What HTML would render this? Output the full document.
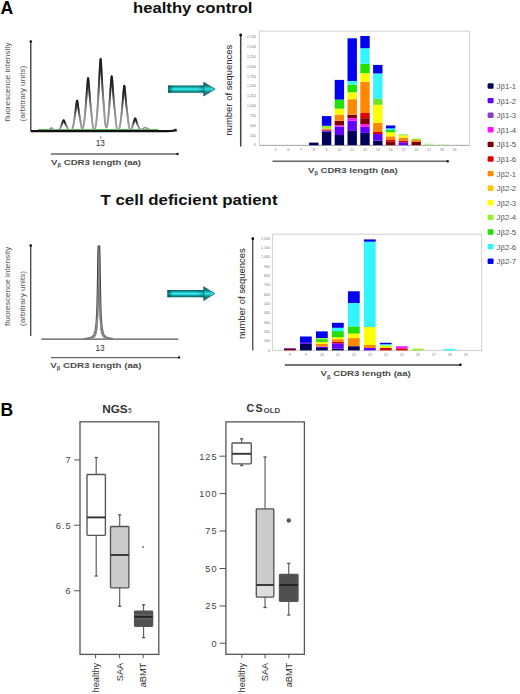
<!DOCTYPE html><html><head><meta charset="utf-8"><style>html,body{margin:0;padding:0;background:#fff;width:520px;height:694px;overflow:hidden}svg{display:block}text{font-family:"Liberation Sans",sans-serif}</style></head><body>
<svg width="520" height="694" viewBox="0 0 520 694">
<defs>
<linearGradient id="arrg" x1="0" y1="0" x2="0" y2="1">
<stop offset="0" stop-color="#0a5a5c"/><stop offset="0.3" stop-color="#18b4b6"/><stop offset="0.5" stop-color="#3af4f4"/><stop offset="0.7" stop-color="#18b4b6"/><stop offset="1" stop-color="#0a5a5c"/></linearGradient>
<linearGradient id="arrh" x1="0" y1="0" x2="1" y2="0">
<stop offset="0" stop-color="#084c4e" stop-opacity="0.85"/><stop offset="0.15" stop-color="#084c4e" stop-opacity="0"/><stop offset="0.8" stop-color="#084c4e" stop-opacity="0"/><stop offset="1" stop-color="#084c4e" stop-opacity="0.35"/></linearGradient>
<linearGradient id="arrhd" x1="0" y1="0" x2="0" y2="1">
<stop offset="0" stop-color="#0a4e50"/><stop offset="0.3" stop-color="#128f92"/><stop offset="0.5" stop-color="#2fe0e2"/><stop offset="0.7" stop-color="#128f92"/><stop offset="1" stop-color="#0a4e50"/></linearGradient>
<linearGradient id="pk1" gradientUnits="userSpaceOnUse" x1="0" y1="56" x2="0" y2="131">
<stop offset="0" stop-color="#1a1a1a"/><stop offset="0.25" stop-color="#444"/><stop offset="0.55" stop-color="#8a8a8a"/><stop offset="0.85" stop-color="#999"/><stop offset="1" stop-color="#444"/></linearGradient>
<linearGradient id="pkb" x1="0" y1="0" x2="0" y2="1">
<stop offset="0" stop-color="#151515"/><stop offset="0.3" stop-color="#333"/><stop offset="0.6" stop-color="#888"/><stop offset="1" stop-color="#a0a0a0" stop-opacity="0.6"/></linearGradient>
<linearGradient id="pk2" gradientUnits="userSpaceOnUse" x1="0" y1="244" x2="0" y2="340">
<stop offset="0" stop-color="#1a1a1a"/><stop offset="0.5" stop-color="#444"/><stop offset="0.85" stop-color="#666"/><stop offset="1" stop-color="#777"/></linearGradient>
</defs>
<text x="0.6" y="14.3" font-size="17.6" font-weight="bold" fill="#000">A</text>
<text x="0.5" y="415.6" font-size="17.5" font-weight="bold" fill="#000">B</text>
<text x="133" y="12.6" font-size="14.4" font-weight="bold" fill="#111" textLength="119.5" lengthAdjust="spacingAndGlyphs">healthy control</text>
<text x="100.5" y="204.7" font-size="15.4" font-weight="bold" fill="#111" textLength="177" lengthAdjust="spacingAndGlyphs">T cell deficient patient</text>
<line x1="30.8" y1="41.5" x2="30.8" y2="131.5" stroke="#333" stroke-width="1.3"/>
<circle cx="30.8" cy="41.5" r="1.3" fill="#111"/>
<text transform="translate(9.6,121.4) rotate(-90)" font-size="7.4" fill="#555" textLength="79" lengthAdjust="spacingAndGlyphs">fluorescence intensity</text>
<text transform="translate(24.7,121.4) rotate(-90)" font-size="7.4" fill="#555" textLength="55.8" lengthAdjust="spacingAndGlyphs">(arbitrary units)</text>
<line x1="38" y1="129.6" x2="158" y2="129.6" stroke="#4cc24c" stroke-width="1.4"/>
<path d="M32.00,131.20 L32.20,131.20 L32.40,131.20 L32.60,131.20 L32.80,131.20 L33.00,131.20 L33.20,131.20 L33.40,131.20 L33.60,131.20 L33.80,131.20 L34.00,131.20 L34.20,131.20 L34.40,131.20 L34.60,131.20 L34.80,131.20 L35.00,131.20 L35.20,131.20 L35.40,131.20 L35.60,131.20 L35.80,131.20 L36.00,131.20 L36.20,131.20 L36.40,131.20 L36.60,131.20 L36.80,131.20 L37.00,131.20 L37.20,131.20 L37.40,131.20 L37.60,131.20 L37.80,131.20 L38.00,131.20 L38.20,131.20 L38.40,131.20 L38.60,131.20 L38.80,131.20 L39.00,131.20 L39.20,131.20 L39.40,131.20 L39.60,131.20 L39.80,131.20 L40.00,131.20 L40.20,131.20 L40.40,131.20 L40.60,131.20 L40.80,131.20 L41.00,131.20 L41.20,131.20 L41.40,131.20 L41.60,131.20 L41.80,131.20 L42.00,131.20 L42.20,131.20 L42.40,131.20 L42.60,131.20 L42.80,131.20 L43.00,131.20 L43.20,131.20 L43.40,131.20 L43.60,131.20 L43.80,131.20 L44.00,131.20 L44.20,131.20 L44.40,131.20 L44.60,131.20 L44.80,131.20 L45.00,131.20 L45.20,131.20 L45.40,131.18 L45.60,131.16 L45.80,131.13 L46.00,131.10 L46.20,131.06 L46.40,131.02 L46.60,130.97 L46.80,130.91 L47.00,130.85 L47.20,130.78 L47.40,130.70 L47.60,130.61 L47.80,130.51 L48.00,130.41 L48.20,130.29 L48.40,130.17 L48.60,130.04 L48.80,129.90 L49.00,129.75 L49.20,129.60 L49.40,129.44 L49.60,129.27 L49.80,129.10 L50.00,128.93 L50.20,128.76 L50.40,128.59 L50.60,128.43 L50.80,128.27 L51.00,128.13 L51.20,128.01 L51.40,127.92 L51.60,127.92 L51.80,128.01 L52.00,128.13 L52.20,128.27 L52.40,128.42 L52.60,128.59 L52.80,128.75 L53.00,128.92 L53.20,129.08 L53.40,129.23 L53.60,129.37 L53.80,129.50 L54.00,129.62 L54.20,129.74 L54.40,129.85 L54.60,129.96 L54.80,130.08 L55.00,130.20 L55.20,130.33 L55.40,130.46 L55.60,130.58 L55.80,130.70 L56.00,130.80 L56.20,130.88 L56.40,130.95 L56.60,131.01 L56.80,131.06 L57.00,131.10 L57.20,131.07 L57.40,131.03 L57.60,130.97 L57.80,130.89 L58.00,130.78 L58.20,130.65 L58.40,130.50 L58.60,130.33 L58.80,130.14 L59.00,129.93 L59.20,129.70 L59.40,129.44 L59.60,129.16 L59.80,128.86 L60.00,128.52 L60.20,128.17 L60.40,127.78 L60.60,127.37 L60.80,126.94 L61.00,126.48 L61.20,126.01 L61.40,125.51 L61.60,124.99 L61.80,124.47 L62.00,123.93 L62.20,123.39 L62.40,122.85 L62.60,122.32 L62.80,121.81 L63.00,121.33 L63.20,120.90 L63.40,120.53 L63.60,120.26 L63.80,120.26 L64.00,120.53 L64.20,120.90 L64.40,121.33 L64.60,121.80 L64.80,122.31 L65.00,122.82 L65.20,123.34 L65.40,123.84 L65.60,124.32 L65.80,124.76 L66.00,125.18 L66.20,125.56 L66.40,125.93 L66.60,126.29 L66.80,126.66 L67.00,127.06 L67.20,127.48 L67.40,127.91 L67.60,128.35 L67.80,128.78 L68.00,129.17 L68.20,129.52 L68.40,129.82 L68.60,130.08 L68.80,130.30 L69.00,130.48 L69.20,130.64 L69.40,130.78 L69.60,130.89 L69.80,130.99 L70.00,131.07 L70.20,131.14 L70.40,131.20 L70.60,131.20 L70.80,131.20 L71.00,131.02 L71.20,130.81 L71.40,130.55 L71.60,130.25 L71.80,129.90 L72.00,129.49 L72.20,129.03 L72.40,128.50 L72.60,127.90 L72.80,127.24 L73.00,126.49 L73.20,125.68 L73.40,124.78 L73.60,123.80 L73.80,122.74 L74.00,121.60 L74.20,120.38 L74.40,119.08 L74.60,117.71 L74.80,116.27 L75.00,114.77 L75.20,113.23 L75.40,111.64 L75.60,110.04 L75.80,108.43 L76.00,106.84 L76.20,105.30 L76.40,103.85 L76.60,102.53 L76.80,101.41 L77.00,100.60 L77.20,100.60 L77.40,101.41 L77.60,102.53 L77.80,103.84 L78.00,105.28 L78.20,106.80 L78.40,108.35 L78.60,109.89 L78.80,111.39 L79.00,112.81 L79.20,114.13 L79.40,115.35 L79.60,116.48 L79.80,117.54 L80.00,118.58 L80.20,119.64 L80.40,120.75 L80.60,121.91 L80.80,123.12 L81.00,124.31 L81.20,125.46 L81.40,126.50 L81.60,127.42 L81.80,128.21 L82.00,128.56 L82.20,128.74 L82.40,128.74 L82.60,128.60 L82.80,128.30 L83.00,127.86 L83.20,127.26 L83.40,126.53 L83.60,125.49 L83.80,124.34 L84.00,123.06 L84.20,121.64 L84.40,120.09 L84.60,118.39 L84.80,116.56 L85.00,114.58 L85.20,112.47 L85.40,110.23 L85.60,107.85 L85.80,105.37 L86.00,102.77 L86.20,100.10 L86.40,97.35 L86.60,94.58 L86.80,91.79 L87.00,89.04 L87.20,86.38 L87.40,83.87 L87.60,81.58 L87.80,79.64 L88.00,78.24 L88.20,78.24 L88.40,79.64 L88.60,81.58 L88.80,83.85 L89.00,86.35 L89.20,88.98 L89.40,91.66 L89.60,94.33 L89.80,96.92 L90.00,99.37 L90.20,101.66 L90.40,103.77 L90.60,105.72 L90.80,107.56 L91.00,109.35 L91.20,111.19 L91.40,113.11 L91.60,115.13 L91.80,117.21 L92.00,119.28 L92.20,121.26 L92.40,123.07 L92.60,124.66 L92.80,126.02 L93.00,127.16 L93.20,128.10 L93.40,128.88 L93.60,129.53 L93.80,130.07 L94.00,130.52 L94.20,130.89 L94.40,131.00 L94.60,130.54 L94.80,129.99 L95.00,129.34 L95.20,128.57 L95.40,127.68 L95.60,126.65 L95.80,125.48 L96.00,124.16 L96.20,122.68 L96.40,121.02 L96.60,119.18 L96.80,117.16 L97.00,114.96 L97.20,112.56 L97.40,109.97 L97.60,107.19 L97.80,104.22 L98.00,101.08 L98.20,97.77 L98.40,94.31 L98.60,90.73 L98.80,87.04 L99.00,83.28 L99.20,79.49 L99.40,75.72 L99.60,72.03 L99.80,68.50 L100.00,65.22 L100.20,62.32 L100.40,60.00 L100.60,58.70 L100.80,60.00 L101.00,62.32 L101.20,65.21 L101.40,68.47 L101.60,71.97 L101.80,75.59 L102.00,79.24 L102.20,82.82 L102.40,86.26 L102.60,89.50 L102.80,92.49 L103.00,95.24 L103.20,97.80 L103.40,100.26 L103.60,102.72 L103.80,105.27 L104.00,107.95 L104.20,110.75 L104.40,113.59 L104.60,116.36 L104.80,118.94 L105.00,121.26 L105.20,123.27 L105.40,124.97 L105.60,126.06 L105.80,126.85 L106.00,127.35 L106.20,127.62 L106.40,127.66 L106.60,127.48 L106.80,127.11 L107.00,126.36 L107.20,125.29 L107.40,124.10 L107.60,122.77 L107.80,121.30 L108.00,119.69 L108.20,117.94 L108.40,116.04 L108.60,113.99 L108.80,111.80 L109.00,109.48 L109.20,107.02 L109.40,104.44 L109.60,101.76 L109.80,98.99 L110.00,96.15 L110.20,93.27 L110.40,90.39 L110.60,87.54 L110.80,84.78 L111.00,82.18 L111.20,79.82 L111.40,77.81 L111.60,76.35 L111.80,76.35 L112.00,77.80 L112.20,79.81 L112.40,82.17 L112.60,84.75 L112.80,87.47 L113.00,90.25 L113.20,93.01 L113.40,95.69 L113.60,98.24 L113.80,100.61 L114.00,102.80 L114.20,104.81 L114.40,106.71 L114.60,108.57 L114.80,110.47 L115.00,112.46 L115.20,114.56 L115.40,116.71 L115.60,118.86 L115.80,120.91 L116.00,122.78 L116.20,124.43 L116.40,125.84 L116.60,127.02 L116.80,127.99 L117.00,128.80 L117.20,129.47 L117.40,130.03 L117.60,130.50 L117.80,130.88 L118.00,131.20 L118.20,130.94 L118.40,130.62 L118.60,130.24 L118.80,129.80 L119.00,129.28 L119.20,128.67 L119.40,127.98 L119.60,127.20 L119.80,126.32 L120.00,125.33 L120.20,124.23 L120.40,123.02 L120.60,121.69 L120.80,120.24 L121.00,118.67 L121.20,116.99 L121.40,115.18 L121.60,113.26 L121.80,111.23 L122.00,109.10 L122.20,106.88 L122.40,104.59 L122.60,102.24 L122.80,99.87 L123.00,97.48 L123.20,95.13 L123.40,92.86 L123.60,90.71 L123.80,88.75 L124.00,87.09 L124.20,85.89 L124.40,85.89 L124.60,87.09 L124.80,88.75 L125.00,90.69 L125.20,92.83 L125.40,95.08 L125.60,97.37 L125.80,99.65 L126.00,101.87 L126.20,103.97 L126.40,105.93 L126.60,107.74 L126.80,109.40 L127.00,110.97 L127.20,112.51 L127.40,114.08 L127.60,115.72 L127.80,117.45 L128.00,119.23 L128.20,121.00 L128.40,122.70 L128.60,124.24 L128.80,125.61 L129.00,126.74 L129.20,127.63 L129.40,128.34 L129.60,128.89 L129.80,129.31 L130.00,129.61 L130.20,129.81 L130.40,129.92 L130.60,129.95 L130.80,129.68 L131.00,129.39 L131.20,129.06 L131.40,128.70 L131.60,128.31 L131.80,127.88 L132.00,127.42 L132.20,126.93 L132.40,126.40 L132.60,125.84 L132.80,125.25 L133.00,124.64 L133.20,124.00 L133.40,123.34 L133.60,122.67 L133.80,122.00 L134.00,121.33 L134.20,120.67 L134.40,120.04 L134.60,119.46 L134.80,118.94 L135.00,118.53 L135.20,118.30 L135.40,118.53 L135.60,118.93 L135.80,119.43 L136.00,119.99 L136.20,120.59 L136.40,121.22 L136.60,121.84 L136.80,122.45 L137.00,123.04 L137.20,123.58 L137.40,124.08 L137.60,124.53 L137.80,124.95 L138.00,125.34 L138.20,125.73 L138.40,126.13 L138.60,126.55 L138.80,126.99 L139.00,127.44 L139.20,127.86 L139.40,128.25 L139.60,128.59 L139.80,128.87 L140.00,129.09 L140.20,129.26 L140.40,129.38 L140.60,129.45 L140.80,129.50 L141.00,129.52 L141.20,129.51 L141.40,129.49 L141.60,129.41 L141.80,129.30 L142.00,129.18 L142.20,129.06 L142.40,128.94 L142.60,128.82 L142.80,128.69 L143.00,128.57 L143.20,128.45 L143.40,128.32 L143.60,128.20 L143.80,128.09 L144.00,127.97 L144.20,127.86 L144.40,127.76 L144.60,127.67 L144.80,127.60 L145.00,127.53 L145.20,127.50 L145.40,127.53 L145.60,127.60 L145.80,127.67 L146.00,127.76 L146.20,127.86 L146.40,127.97 L146.60,128.07 L146.80,128.18 L147.00,128.28 L147.20,128.38 L147.40,128.47 L147.60,128.56 L147.80,128.64 L148.00,128.73 L148.20,128.82 L148.40,128.92 L148.60,129.04 L148.80,129.17 L149.00,129.32 L149.20,129.46 L149.40,129.61 L149.60,129.74 L149.80,129.87 L150.00,129.99 L150.20,130.09 L150.40,130.19 L150.60,130.28 L150.80,130.36 L151.00,130.43 L151.20,130.50 L151.40,130.57 L151.60,130.63 L151.80,130.69 L152.00,130.75 L152.20,130.80 L152.40,130.84 L152.60,130.89 L152.80,130.93 L153.00,130.97 L153.20,131.00 L153.40,131.03 L153.60,131.06 L153.80,131.09 L154.00,131.11 L154.20,131.13 L154.40,131.15 L154.60,131.17 L154.80,131.18 L155.00,131.20 L155.20,131.20 L155.40,131.20 L155.60,131.20 L155.80,131.20 L156.00,131.20 L156.20,131.20 L156.40,131.20 L156.60,131.20 L156.80,131.20 L157.00,131.20 L157.20,131.20 L157.40,131.20 L157.60,131.20 L157.80,131.20 L158.00,131.20 L158.20,131.20 L158.40,131.20 L158.60,131.20 L158.80,131.20 L159.00,131.20 L159.20,131.20 L159.40,131.20 L159.60,131.20 L159.80,131.20 L160.00,131.20 L160.20,131.20 L160.40,131.20 L160.60,131.20 L160.80,131.20 L161.00,131.20 L161.20,131.20 L161.40,131.20 L161.60,131.20 L161.80,131.20 L162.00,131.20 L162.20,131.20 L162.40,131.20 L162.60,131.20 L162.80,131.20 L163.00,131.20 L163.20,131.20 L163.40,131.20 L163.60,131.20 L163.80,131.20 L164.00,131.20 L164.20,131.20 L164.40,131.20 L164.60,131.20 L164.80,131.20 L165.00,131.20 L165.20,131.20 L165.40,131.20 L165.60,131.20 L165.80,131.20 L166.00,131.20 L166.20,131.20 L166.40,131.20 L166.60,131.20 L166.80,131.20 L167.00,131.20 L167.20,131.20 L167.40,131.20 L167.60,131.20 L167.80,131.20 L168.00,131.20 L168.20,131.20 L168.40,131.20 L168.60,131.20 L168.80,131.20 L169.00,131.20 L169.20,131.20 L169.40,131.20 L169.60,131.20 L169.80,131.20 L170.00,131.20 L170.20,131.20 L170.40,131.20 L170.60,131.20 L170.80,131.20 L171.00,131.20 L171.20,131.20 L171.40,131.20 L171.60,131.20 L171.80,131.20 L172.00,131.20 L172.20,131.20 L172.40,131.20 L172.60,131.20 L172.80,131.20 L173.00,131.20 L173.20,131.20 L173.40,131.20 L173.60,131.20 L173.80,131.20 L174.00,131.20 L174.20,131.20 L174.40,131.20 L174.60,131.20 L174.80,131.20 L175.00,131.20 L175.20,131.20 L175.40,131.20 L175.60,131.20 L175.80,131.20 L176.00,131.20 L176.20,131.20 L176.40,131.20 L176.60,131.20 L176.80,131.20 L177.00,131.20" fill="none" stroke="#9a9a9a" stroke-width="1.7" stroke-linejoin="round"/>
<path d="M58.35,130.54 L58.50,130.42 L58.65,130.29 L58.80,130.15 L58.95,129.99 L59.09,129.83 L59.24,129.65 L59.39,129.45 L59.54,129.24 L59.69,129.02 L59.84,128.78 L59.99,128.53 L60.14,128.27 L60.29,127.99 L60.44,127.69 L60.59,127.39 L60.74,127.06 L60.89,126.73 L61.04,126.38 L61.19,126.02 L61.34,125.65 L61.49,125.27 L61.64,124.88 L61.79,124.48 L61.94,124.08 L62.09,123.67 L62.24,123.27 L62.39,122.86 L62.54,122.46 L62.69,122.07 L62.84,121.70 L62.99,121.34 L63.14,121.01 L63.29,120.71 L63.44,120.46 L63.59,120.27 L63.74,120.22 L63.89,120.37 L64.04,120.60 L64.19,120.89 L64.34,121.20 L64.49,121.55 L64.64,121.91 L64.79,122.29 L64.94,122.68 L65.09,123.07 L65.25,123.45 L65.40,123.83 L65.55,124.19 L65.70,124.53 L65.85,124.86 L66.00,125.17 L66.15,125.46 L66.30,125.74 L66.45,126.01 L66.60,126.28 L66.75,126.56 L66.90,126.85 L67.05,127.15 L67.20,127.47 L67.35,127.79 L67.50,128.12 L67.65,128.45 L67.80,128.77 L67.95,129.06 L68.10,129.34 L68.25,129.59 L68.40,129.81 L68.55,130.01 L68.70,130.19 L68.85,130.34 L69.00,130.48" fill="none" stroke="url(#pkb)" stroke-width="1.9" stroke-linejoin="round"/>
<path d="M72.06,129.36 L72.21,129.00 L72.36,128.61 L72.51,128.18 L72.66,127.71 L72.81,127.20 L72.96,126.65 L73.11,126.05 L73.26,125.41 L73.41,124.73 L73.56,124.00 L73.71,123.23 L73.86,122.41 L74.01,121.54 L74.16,120.63 L74.31,119.67 L74.46,118.68 L74.61,117.64 L74.76,116.56 L74.91,115.45 L75.06,114.31 L75.21,113.15 L75.36,111.96 L75.51,110.76 L75.66,109.55 L75.81,108.35 L75.96,107.15 L76.11,105.98 L76.26,104.85 L76.41,103.78 L76.56,102.78 L76.71,101.88 L76.86,101.12 L77.01,100.57 L77.16,100.49 L77.31,100.99 L77.46,101.72 L77.61,102.59 L77.76,103.57 L77.91,104.62 L78.06,105.73 L78.21,106.88 L78.36,108.04 L78.51,109.20 L78.66,110.35 L78.81,111.46 L78.96,112.53 L79.11,113.55 L79.26,114.51 L79.41,115.41 L79.56,116.26 L79.71,117.06 L79.86,117.85 L80.01,118.63 L80.16,119.42 L80.31,120.24 L80.46,121.09 L80.61,121.97 L80.76,122.87 L80.91,123.78 L81.06,124.66 L81.21,125.51 L81.36,126.30 L81.51,127.02 L81.66,127.67 L81.81,128.24 L81.96,128.74 L82.11,129.18" fill="none" stroke="url(#pkb)" stroke-width="1.9" stroke-linejoin="round"/>
<path d="M83.06,128.02 L83.21,127.40 L83.36,126.72 L83.51,125.97 L83.66,125.16 L83.81,124.28 L83.96,123.32 L84.11,122.29 L84.26,121.19 L84.41,120.01 L84.56,118.74 L84.71,117.40 L84.86,115.98 L85.01,114.48 L85.16,112.91 L85.31,111.25 L85.46,109.53 L85.61,107.73 L85.76,105.87 L85.91,103.95 L86.06,101.98 L86.21,99.96 L86.36,97.91 L86.51,95.83 L86.66,93.74 L86.81,91.65 L86.96,89.59 L87.11,87.56 L87.26,85.61 L87.41,83.75 L87.56,82.02 L87.71,80.47 L87.86,79.15 L88.01,78.19 L88.16,78.06 L88.31,78.93 L88.46,80.18 L88.61,81.69 L88.76,83.38 L88.91,85.21 L89.06,87.13 L89.21,89.11 L89.36,91.12 L89.51,93.13 L89.66,95.11 L89.81,97.04 L89.96,98.89 L90.11,100.66 L90.26,102.32 L90.41,103.87 L90.56,105.34 L90.71,106.74 L90.86,108.10 L91.01,109.44 L91.16,110.82 L91.31,112.23 L91.46,113.71 L91.61,115.23 L91.76,116.79 L91.91,118.36 L92.06,119.89 L92.21,121.36 L92.36,122.72 L92.51,123.97 L92.66,125.10 L92.81,126.09 L92.96,126.95 L93.11,127.70" fill="none" stroke="url(#pkb)" stroke-width="1.9" stroke-linejoin="round"/>
<path d="M95.56,126.87 L95.71,126.03 L95.86,125.10 L96.01,124.09 L96.16,122.99 L96.31,121.79 L96.46,120.49 L96.61,119.09 L96.76,117.58 L96.91,115.97 L97.06,114.26 L97.21,112.43 L97.36,110.50 L97.51,108.46 L97.66,106.32 L97.81,104.07 L97.96,101.72 L98.11,99.28 L98.26,96.75 L98.41,94.14 L98.56,91.45 L98.71,88.71 L98.86,85.91 L99.01,83.09 L99.16,80.24 L99.31,77.41 L99.46,74.60 L99.61,71.85 L99.76,69.18 L99.91,66.65 L100.06,64.30 L100.21,62.19 L100.36,60.41 L100.51,59.10 L100.66,58.91 L100.81,60.10 L100.96,61.80 L101.11,63.85 L101.26,66.15 L101.41,68.64 L101.56,71.25 L101.71,73.95 L101.86,76.68 L102.01,79.42 L102.16,82.11 L102.31,84.74 L102.46,87.26 L102.61,89.65 L102.76,91.91 L102.91,94.03 L103.06,96.03 L103.21,97.93 L103.36,99.77 L103.51,101.61 L103.66,103.47 L103.81,105.40 L103.96,107.40 L104.11,109.48 L104.26,111.60 L104.41,113.73 L104.56,115.81 L104.71,117.81 L104.86,119.67 L105.01,121.37 L105.16,122.90 L105.31,124.24 L105.46,125.42 L105.61,126.44" fill="none" stroke="url(#pkb)" stroke-width="1.9" stroke-linejoin="round"/>
<path d="M106.66,127.90 L106.81,127.26 L106.96,126.56 L107.11,125.79 L107.26,124.95 L107.41,124.03 L107.56,123.04 L107.71,121.98 L107.86,120.83 L108.01,119.61 L108.16,118.30 L108.31,116.91 L108.46,115.44 L108.61,113.89 L108.76,112.25 L108.91,110.54 L109.06,108.76 L109.21,106.90 L109.36,104.97 L109.51,102.98 L109.66,100.94 L109.81,98.85 L109.96,96.72 L110.11,94.57 L110.26,92.40 L110.41,90.24 L110.56,88.10 L110.71,86.01 L110.86,83.98 L111.01,82.06 L111.16,80.26 L111.31,78.66 L111.46,77.30 L111.61,76.30 L111.76,76.16 L111.91,77.06 L112.06,78.36 L112.21,79.92 L112.36,81.67 L112.51,83.57 L112.66,85.56 L112.81,87.61 L112.96,89.69 L113.11,91.77 L113.26,93.83 L113.41,95.82 L113.56,97.74 L113.71,99.57 L113.86,101.29 L114.01,102.90 L114.16,104.42 L114.31,105.87 L114.46,107.27 L114.61,108.67 L114.76,110.09 L114.91,111.56 L115.06,113.08 L115.21,114.66 L115.36,116.28 L115.51,117.90 L115.66,119.49 L115.81,121.00 L115.96,122.42 L116.11,123.72 L116.26,124.88 L116.41,125.90 L116.56,126.80 L116.71,127.58" fill="none" stroke="url(#pkb)" stroke-width="1.9" stroke-linejoin="round"/>
<path d="M119.26,128.48 L119.41,127.95 L119.56,127.37 L119.71,126.73 L119.86,126.03 L120.01,125.28 L120.16,124.46 L120.31,123.58 L120.46,122.64 L120.61,121.62 L120.76,120.54 L120.91,119.40 L121.06,118.18 L121.21,116.90 L121.36,115.55 L121.51,114.13 L121.66,112.66 L121.81,111.12 L121.96,109.53 L122.11,107.89 L122.26,106.20 L122.41,104.47 L122.56,102.72 L122.71,100.94 L122.86,99.15 L123.01,97.37 L123.16,95.60 L123.31,93.87 L123.46,92.19 L123.61,90.60 L123.76,89.12 L123.91,87.79 L124.06,86.67 L124.21,85.85 L124.36,85.73 L124.51,86.48 L124.66,87.55 L124.81,88.84 L124.96,90.29 L125.11,91.85 L125.26,93.50 L125.41,95.19 L125.56,96.91 L125.71,98.63 L125.86,100.33 L126.01,101.98 L126.16,103.56 L126.31,105.07 L126.46,106.49 L126.61,107.82 L126.76,109.08 L126.91,110.27 L127.06,111.43 L127.21,112.59 L127.36,113.76 L127.51,114.97 L127.66,116.23 L127.81,117.54 L127.96,118.87 L128.11,120.21 L128.26,121.52 L128.41,122.78 L128.56,123.95 L128.71,125.02 L128.86,125.98 L129.01,126.82 L129.16,127.56 L129.31,128.21" fill="none" stroke="url(#pkb)" stroke-width="1.9" stroke-linejoin="round"/>
<path d="M130.16,130.43 L130.31,130.28 L130.46,130.12 L130.61,129.94 L130.76,129.74 L130.91,129.52 L131.06,129.29 L131.21,129.04 L131.36,128.78 L131.51,128.49 L131.66,128.19 L131.81,127.86 L131.96,127.52 L132.11,127.15 L132.26,126.77 L132.41,126.37 L132.56,125.95 L132.71,125.52 L132.86,125.07 L133.01,124.61 L133.16,124.13 L133.31,123.64 L133.46,123.14 L133.61,122.64 L133.76,122.13 L133.91,121.63 L134.06,121.13 L134.21,120.64 L134.36,120.17 L134.51,119.72 L134.66,119.30 L134.81,118.92 L134.96,118.60 L135.11,118.37 L135.26,118.34 L135.41,118.55 L135.56,118.85 L135.71,119.22 L135.86,119.63 L136.01,120.07 L136.16,120.53 L136.31,121.01 L136.46,121.50 L136.61,121.99 L136.76,122.47 L136.91,122.93 L137.06,123.38 L137.21,123.81 L137.36,124.21 L137.51,124.59 L137.66,124.94 L137.81,125.28 L137.96,125.61 L138.11,125.93 L138.26,126.27 L138.41,126.61 L138.56,126.97 L138.71,127.34 L138.86,127.71 L139.01,128.09 L139.16,128.46 L139.31,128.82 L139.46,129.15 L139.61,129.45 L139.76,129.72 L139.91,129.96 L140.06,130.17 L140.21,130.35" fill="none" stroke="url(#pkb)" stroke-width="1.9" stroke-linejoin="round"/>
<path d="M31,131.1 L168,131.1 Q174,131.1 176.6,129.4" fill="none" stroke="#111" stroke-width="2.3"/>
<line x1="100.8" y1="136" x2="100.8" y2="138.5" stroke="#555" stroke-width="0.7"/>
<text x="95.8" y="146.3" font-size="8.2" fill="#333">13</text>
<line x1="50.8" y1="154" x2="177.5" y2="154" stroke="#666" stroke-width="1.3"/>
<circle cx="177.5" cy="154" r="1.2" fill="#111"/>
<text x="51.1" y="165.0" font-size="8.1" font-weight="bold" fill="#4a4a4a" textLength="90" lengthAdjust="spacingAndGlyphs">V<tspan font-size="4.86" dy="2.27">β</tspan><tspan dy="-2.27"> CDR3 length (aa)</tspan></text>
<path d="M168.1,85.5 L204.2,85.5 L204.2,92.69999999999999 L168.1,92.69999999999999 Z" fill="url(#arrg)"/><path d="M168.1,85.5 L204.2,85.5 L204.2,92.69999999999999 L168.1,92.69999999999999 Z" fill="url(#arrh)"/><path d="M203.7,82.19999999999999 L215.2,89.1 L203.7,96.0 Z" fill="url(#arrhd)" stroke="#0b5557" stroke-width="0.6" stroke-linejoin="round"/>
<path d="M167.4,290.0 L204.2,290.0 L204.2,297.20000000000005 L167.4,297.20000000000005 Z" fill="url(#arrg)"/><path d="M167.4,290.0 L204.2,290.0 L204.2,297.20000000000005 L167.4,297.20000000000005 Z" fill="url(#arrh)"/><path d="M203.7,286.70000000000005 L214.9,293.6 L203.7,300.5 Z" fill="url(#arrhd)" stroke="#0b5557" stroke-width="0.6" stroke-linejoin="round"/>
<rect x="259.3" y="31.1" width="210.09999999999997" height="114.1" fill="none" stroke="#d0d0d0" stroke-width="1"/>
<line x1="259.3" y1="145.5" x2="469.4" y2="145.5" stroke="#b0b0b0" stroke-width="1.2"/>
<line x1="240.7" y1="35" x2="240.7" y2="146" stroke="#444" stroke-width="1.5" stroke-linecap="round"/>
<circle cx="240.7" cy="35" r="1.4" fill="#000"/>
<text transform="translate(232.4,135.5) rotate(-90)" font-size="9.0" fill="#222" textLength="90.8" lengthAdjust="spacingAndGlyphs">number of sequences</text>
<text x="256" y="38.2" font-size="3.6" fill="#777" text-anchor="end">2,750</text>
<text x="256" y="48.0" font-size="3.6" fill="#777" text-anchor="end">2,500</text>
<text x="256" y="57.9" font-size="3.6" fill="#777" text-anchor="end">2,250</text>
<text x="256" y="67.7" font-size="3.6" fill="#777" text-anchor="end">2,000</text>
<text x="256" y="77.5" font-size="3.6" fill="#777" text-anchor="end">1,750</text>
<text x="256" y="87.3" font-size="3.6" fill="#777" text-anchor="end">1,500</text>
<text x="256" y="97.2" font-size="3.6" fill="#777" text-anchor="end">1,250</text>
<text x="256" y="107.0" font-size="3.6" fill="#777" text-anchor="end">1,000</text>
<text x="256" y="116.8" font-size="3.6" fill="#777" text-anchor="end">750</text>
<text x="256" y="126.6" font-size="3.6" fill="#777" text-anchor="end">500</text>
<text x="256" y="136.5" font-size="3.6" fill="#777" text-anchor="end">250</text>
<text x="256" y="146.3" font-size="3.6" fill="#777" text-anchor="end">0</text>
<text x="275.4" y="151.2" font-size="3.6" fill="#777" text-anchor="middle">5</text>
<text x="288.2" y="151.2" font-size="3.6" fill="#777" text-anchor="middle">6</text>
<text x="301.0" y="151.2" font-size="3.6" fill="#777" text-anchor="middle">7</text>
<text x="313.8" y="151.2" font-size="3.6" fill="#777" text-anchor="middle">8</text>
<text x="326.6" y="151.2" font-size="3.6" fill="#777" text-anchor="middle">9</text>
<text x="339.4" y="151.2" font-size="3.6" fill="#777" text-anchor="middle">10</text>
<text x="352.2" y="151.2" font-size="3.6" fill="#777" text-anchor="middle">11</text>
<text x="365.0" y="151.2" font-size="3.6" fill="#777" text-anchor="middle">12</text>
<text x="377.8" y="151.2" font-size="3.6" fill="#777" text-anchor="middle">13</text>
<text x="390.6" y="151.2" font-size="3.6" fill="#777" text-anchor="middle">14</text>
<text x="403.4" y="151.2" font-size="3.6" fill="#777" text-anchor="middle">15</text>
<text x="416.2" y="151.2" font-size="3.6" fill="#777" text-anchor="middle">16</text>
<text x="429.0" y="151.2" font-size="3.6" fill="#777" text-anchor="middle">17</text>
<text x="441.8" y="151.2" font-size="3.6" fill="#777" text-anchor="middle">18</text>
<text x="454.6" y="151.2" font-size="3.6" fill="#777" text-anchor="middle">19</text>
<rect x="309.10" y="142.60" width="9.4" height="2.60" fill="#00005a"/>
<rect x="321.90" y="131.70" width="9.4" height="13.50" fill="#00005a"/>
<rect x="321.90" y="130.60" width="9.4" height="1.10" fill="#6200ff"/>
<rect x="321.90" y="129.60" width="9.4" height="1.00" fill="#dd0000"/>
<rect x="321.90" y="128.60" width="9.4" height="1.00" fill="#ff8800"/>
<rect x="321.90" y="125.80" width="9.4" height="2.80" fill="#99ee33"/>
<rect x="321.90" y="116.10" width="9.4" height="9.70" fill="#0000f0"/>
<rect x="334.70" y="135.00" width="9.4" height="10.20" fill="#00005a"/>
<rect x="334.70" y="126.60" width="9.4" height="8.40" fill="#6200ff"/>
<rect x="334.70" y="125.30" width="9.4" height="1.30" fill="#ff10ff"/>
<rect x="334.70" y="120.80" width="9.4" height="4.50" fill="#7a0000"/>
<rect x="334.70" y="114.50" width="9.4" height="6.30" fill="#ff8800"/>
<rect x="334.70" y="108.70" width="9.4" height="5.80" fill="#ffff00"/>
<rect x="334.70" y="99.60" width="9.4" height="9.10" fill="#22e000"/>
<rect x="334.70" y="79.90" width="9.4" height="19.70" fill="#0000f0"/>
<rect x="347.50" y="130.30" width="9.4" height="14.90" fill="#00005a"/>
<rect x="347.50" y="120.80" width="9.4" height="9.50" fill="#6200ff"/>
<rect x="347.50" y="118.20" width="9.4" height="2.60" fill="#ff10ff"/>
<rect x="347.50" y="114.70" width="9.4" height="3.50" fill="#7a0000"/>
<rect x="347.50" y="99.20" width="9.4" height="15.50" fill="#ff8800"/>
<rect x="347.50" y="92.30" width="9.4" height="6.90" fill="#ffff00"/>
<rect x="347.50" y="84.50" width="9.4" height="7.80" fill="#22e000"/>
<rect x="347.50" y="81.00" width="9.4" height="3.50" fill="#33f5ff"/>
<rect x="347.50" y="38.30" width="9.4" height="42.70" fill="#0000f0"/>
<rect x="360.30" y="132.90" width="9.4" height="12.30" fill="#00005a"/>
<rect x="360.30" y="126.80" width="9.4" height="6.10" fill="#6200ff"/>
<rect x="360.30" y="124.20" width="9.4" height="2.60" fill="#ff10ff"/>
<rect x="360.30" y="118.20" width="9.4" height="6.00" fill="#7a0000"/>
<rect x="360.30" y="113.00" width="9.4" height="5.20" fill="#dd0000"/>
<rect x="360.30" y="81.90" width="9.4" height="31.10" fill="#ff8800"/>
<rect x="360.30" y="73.20" width="9.4" height="8.70" fill="#ffff00"/>
<rect x="360.30" y="63.70" width="9.4" height="9.50" fill="#22e000"/>
<rect x="360.30" y="48.20" width="9.4" height="15.50" fill="#33f5ff"/>
<rect x="360.30" y="36.00" width="9.4" height="12.20" fill="#0000f0"/>
<rect x="373.10" y="140.50" width="9.4" height="4.70" fill="#00005a"/>
<rect x="373.10" y="134.00" width="9.4" height="6.50" fill="#6200ff"/>
<rect x="373.10" y="132.00" width="9.4" height="2.00" fill="#dd0000"/>
<rect x="373.10" y="122.70" width="9.4" height="9.30" fill="#ff8800"/>
<rect x="373.10" y="104.80" width="9.4" height="17.90" fill="#ffff00"/>
<rect x="373.10" y="98.90" width="9.4" height="5.90" fill="#6ee030"/>
<rect x="373.10" y="73.40" width="9.4" height="25.50" fill="#33f5ff"/>
<rect x="373.10" y="64.90" width="9.4" height="8.50" fill="#0000f0"/>
<rect x="385.90" y="141.80" width="9.4" height="3.40" fill="#7a0000"/>
<rect x="385.90" y="139.80" width="9.4" height="2.00" fill="#dd0000"/>
<rect x="385.90" y="136.30" width="9.4" height="3.50" fill="#ff8800"/>
<rect x="385.90" y="132.30" width="9.4" height="4.00" fill="#ffff00"/>
<rect x="385.90" y="130.00" width="9.4" height="2.30" fill="#22e000"/>
<rect x="385.90" y="128.40" width="9.4" height="1.60" fill="#33f5ff"/>
<rect x="385.90" y="125.50" width="9.4" height="2.90" fill="#0000f0"/>
<rect x="398.70" y="142.30" width="9.4" height="2.90" fill="#6200ff"/>
<rect x="398.70" y="140.60" width="9.4" height="1.70" fill="#dd0000"/>
<rect x="398.70" y="137.50" width="9.4" height="3.10" fill="#ff8800"/>
<rect x="398.70" y="135.50" width="9.4" height="2.00" fill="#ffff00"/>
<rect x="398.70" y="134.30" width="9.4" height="1.20" fill="#99ee33"/>
<rect x="411.50" y="142.00" width="9.4" height="3.20" fill="#7a0000"/>
<rect x="411.50" y="140.00" width="9.4" height="2.00" fill="#ff8800"/>
<rect x="411.50" y="138.60" width="9.4" height="1.40" fill="#99ee33"/>
<rect x="424.30" y="143.60" width="9.4" height="1.60" fill="#c4eb98"/>
<rect x="437.10" y="144.40" width="9.4" height="0.80" fill="#c4eb98"/>
<line x1="272.5" y1="161.3" x2="447.7" y2="161.3" stroke="#666" stroke-width="1.4"/>
<circle cx="447.7" cy="161.3" r="1.2" fill="#111"/>
<text x="308" y="173.0" font-size="8.1" font-weight="bold" fill="#4a4a4a" textLength="89.7" lengthAdjust="spacingAndGlyphs">V<tspan font-size="4.86" dy="2.27">β</tspan><tspan dy="-2.27"> CDR3 length (aa)</tspan></text>
<rect x="487.6" y="83.3" width="6" height="5.4" rx="1.2" fill="#00005a"/>
<text x="496.5" y="88.9" font-size="7.4" fill="#555" textLength="19.7" lengthAdjust="spacingAndGlyphs">Jβ1-1</text>
<rect x="487.6" y="97.9" width="6" height="5.4" rx="1.2" fill="#6200ff"/>
<text x="496.5" y="103.5" font-size="7.4" fill="#555" textLength="19.7" lengthAdjust="spacingAndGlyphs">Jβ1-2</text>
<rect x="487.6" y="112.5" width="6" height="5.4" rx="1.2" fill="#8a3cc8"/>
<text x="496.5" y="118.1" font-size="7.4" fill="#555" textLength="19.7" lengthAdjust="spacingAndGlyphs">Jβ1-3</text>
<rect x="487.6" y="127.1" width="6" height="5.4" rx="1.2" fill="#ff10ff"/>
<text x="496.5" y="132.7" font-size="7.4" fill="#555" textLength="19.7" lengthAdjust="spacingAndGlyphs">Jβ1-4</text>
<rect x="487.6" y="141.7" width="6" height="5.4" rx="1.2" fill="#7a0000"/>
<text x="496.5" y="147.3" font-size="7.4" fill="#555" textLength="19.7" lengthAdjust="spacingAndGlyphs">Jβ1-5</text>
<rect x="487.6" y="156.3" width="6" height="5.4" rx="1.2" fill="#dd0000"/>
<text x="496.5" y="161.9" font-size="7.4" fill="#555" textLength="19.7" lengthAdjust="spacingAndGlyphs">Jβ1-6</text>
<rect x="487.6" y="170.9" width="6" height="5.4" rx="1.2" fill="#ff8800"/>
<text x="496.5" y="176.5" font-size="7.4" fill="#555" textLength="19.7" lengthAdjust="spacingAndGlyphs">Jβ2-1</text>
<rect x="487.6" y="185.5" width="6" height="5.4" rx="1.2" fill="#ffc400"/>
<text x="496.5" y="191.1" font-size="7.4" fill="#555" textLength="19.7" lengthAdjust="spacingAndGlyphs">Jβ2-2</text>
<rect x="487.6" y="200.1" width="6" height="5.4" rx="1.2" fill="#ffff00"/>
<text x="496.5" y="205.7" font-size="7.4" fill="#555" textLength="19.7" lengthAdjust="spacingAndGlyphs">Jβ2-3</text>
<rect x="487.6" y="214.7" width="6" height="5.4" rx="1.2" fill="#99ee33"/>
<text x="496.5" y="220.3" font-size="7.4" fill="#555" textLength="19.7" lengthAdjust="spacingAndGlyphs">Jβ2-4</text>
<rect x="487.6" y="229.3" width="6" height="5.4" rx="1.2" fill="#22e000"/>
<text x="496.5" y="234.9" font-size="7.4" fill="#555" textLength="19.7" lengthAdjust="spacingAndGlyphs">Jβ2-5</text>
<rect x="487.6" y="243.9" width="6" height="5.4" rx="1.2" fill="#33f5ff"/>
<text x="496.5" y="249.5" font-size="7.4" fill="#555" textLength="19.7" lengthAdjust="spacingAndGlyphs">Jβ2-6</text>
<rect x="487.6" y="258.5" width="6" height="5.4" rx="1.2" fill="#0000f0"/>
<text x="496.5" y="264.1" font-size="7.4" fill="#555" textLength="19.7" lengthAdjust="spacingAndGlyphs">Jβ2-7</text>
<line x1="30.7" y1="245.6" x2="30.7" y2="336.1" stroke="#444" stroke-width="1.3"/>
<circle cx="30.7" cy="245.6" r="1.3" fill="#111"/>
<text transform="translate(9.7,326) rotate(-90)" font-size="7.4" fill="#555" textLength="79.4" lengthAdjust="spacingAndGlyphs">fluorescence intensity</text>
<text transform="translate(24.8,326) rotate(-90)" font-size="7.4" fill="#555" textLength="55" lengthAdjust="spacingAndGlyphs">(arbitrary units)</text>
<line x1="41.3" y1="339.1" x2="178.3" y2="339.1" stroke="#555" stroke-width="1.2"/>
<path d="M84.00,338.60 L84.10,338.59 L84.20,338.58 L84.30,338.58 L84.40,338.57 L84.50,338.56 L84.60,338.55 L84.70,338.55 L84.80,338.54 L84.90,338.53 L85.00,338.52 L85.10,338.51 L85.20,338.50 L85.30,338.49 L85.40,338.48 L85.50,338.47 L85.60,338.46 L85.70,338.45 L85.80,338.44 L85.90,338.43 L86.00,338.42 L86.10,338.41 L86.20,338.40 L86.30,338.39 L86.40,338.38 L86.50,338.36 L86.60,338.35 L86.70,338.34 L86.80,338.33 L86.90,338.31 L87.00,338.30 L87.10,338.28 L87.20,338.27 L87.30,338.25 L87.40,338.24 L87.50,338.22 L87.60,338.21 L87.70,338.19 L87.80,338.17 L87.90,338.16 L88.00,338.14 L88.10,338.12 L88.20,338.10 L88.30,338.08 L88.40,338.06 L88.50,338.04 L88.60,338.02 L88.70,337.99 L88.80,337.97 L88.90,337.95 L89.00,337.92 L89.10,337.90 L89.20,337.87 L89.30,337.84 L89.40,337.82 L89.50,337.79 L89.60,337.76 L89.70,337.73 L89.80,337.69 L89.90,337.66 L90.00,337.63 L90.10,337.59 L90.20,337.55 L90.30,337.51 L90.40,337.48 L90.50,337.43 L90.60,337.39 L90.70,337.35 L90.80,337.30 L90.90,337.25 L91.00,337.20 L91.10,337.15 L91.20,337.10 L91.30,337.04 L91.40,336.98 L91.50,336.92 L91.60,336.86 L91.70,336.79 L91.80,336.72 L91.90,336.65 L92.00,336.57 L92.10,336.49 L92.20,336.41 L92.30,336.32 L92.40,336.23 L92.50,336.13 L92.60,336.03 L92.70,335.92 L92.80,335.81 L92.90,335.69 L93.00,335.57 L93.10,335.43 L93.20,335.29 L93.30,335.15 L93.40,334.99 L93.50,334.83 L93.60,334.65 L93.70,334.46 L93.80,334.27 L93.90,334.06 L94.00,333.83 L94.10,333.59 L94.20,333.34 L94.30,333.07 L94.40,332.77 L94.50,332.46 L94.60,332.12 L94.70,331.76 L94.80,331.37 L94.90,330.95 L95.00,330.50 L95.10,330.00 L95.20,329.47 L95.30,328.89 L95.40,328.25 L95.50,327.56 L95.60,326.80 L95.70,325.98 L95.80,325.06 L95.90,324.06 L96.00,322.96 L96.10,321.73 L96.20,320.38 L96.30,318.88 L96.40,317.20 L96.50,315.34 L96.60,313.25 L96.70,310.92 L96.80,308.32 L96.90,305.40 L97.00,302.15 L97.10,298.51 L97.20,294.48 L97.30,290.02 L97.40,285.14 L97.50,279.88 L97.60,274.30 L97.70,268.54 L97.80,262.80 L97.90,257.36 L98.00,252.56 L98.10,248.78 L98.20,246.34 L98.30,245.50 L98.40,246.34 L98.50,248.78 L98.60,252.56 L98.70,257.36 L98.80,262.80 L98.90,268.54 L99.00,274.30 L99.10,279.88 L99.20,285.14 L99.30,290.02 L99.40,294.48 L99.50,298.51 L99.60,302.15 L99.70,305.40 L99.80,308.32 L99.90,310.92 L100.00,313.25 L100.10,315.34 L100.20,317.20 L100.30,318.88 L100.40,320.38 L100.50,321.73 L100.60,322.96 L100.70,324.06 L100.80,325.06 L100.90,325.98 L101.00,326.80 L101.10,327.56 L101.20,328.25 L101.30,328.89 L101.40,329.47 L101.50,330.00 L101.60,330.50 L101.70,330.95 L101.80,331.37 L101.90,331.76 L102.00,332.12 L102.10,332.46 L102.20,332.77 L102.30,333.07 L102.40,333.34 L102.50,333.59 L102.60,333.83 L102.70,334.06 L102.80,334.27 L102.90,334.46 L103.00,334.65 L103.10,334.83 L103.20,334.99 L103.30,335.15 L103.40,335.29 L103.50,335.43 L103.60,335.57 L103.70,335.69 L103.80,335.81 L103.90,335.92 L104.00,336.03 L104.10,336.13 L104.20,336.23 L104.30,336.32 L104.40,336.41 L104.50,336.49 L104.60,336.57 L104.70,336.65 L104.80,336.72 L104.90,336.79 L105.00,336.86 L105.10,336.92 L105.20,336.98 L105.30,337.04 L105.40,337.10 L105.50,337.15 L105.60,337.20 L105.70,337.25 L105.80,337.30 L105.90,337.35 L106.00,337.39 L106.10,337.43 L106.20,337.48 L106.30,337.51 L106.40,337.55 L106.50,337.59 L106.60,337.63 L106.70,337.66 L106.80,337.69 L106.90,337.73 L107.00,337.76 L107.10,337.79 L107.20,337.82 L107.30,337.84 L107.40,337.87 L107.50,337.90 L107.60,337.92 L107.70,337.95 L107.80,337.97 L107.90,337.99 L108.00,338.02 L108.10,338.04 L108.20,338.06 L108.30,338.08 L108.40,338.10 L108.50,338.12 L108.60,338.14 L108.70,338.16 L108.80,338.17 L108.90,338.19 L109.00,338.21 L109.10,338.22 L109.20,338.24 L109.30,338.25 L109.40,338.27 L109.50,338.28 L109.60,338.30 L109.70,338.31 L109.80,338.33 L109.90,338.34 L110.00,338.35 L110.10,338.36 L110.20,338.38 L110.30,338.39 L110.40,338.40 L110.50,338.41 L110.60,338.42 L110.70,338.43 L110.80,338.44 L110.90,338.45 L111.00,338.46 L111.10,338.47 L111.20,338.48 L111.30,338.49 L111.40,338.50 L111.50,338.51 L111.60,338.52 L111.70,338.53 L111.80,338.54 L111.90,338.55 L112.00,338.55 L112.10,338.56 L112.20,338.57 L112.30,338.58 L112.40,338.58 L112.50,338.59 L112.60,338.60 L112.70,338.60 L112.80,338.61 L112.90,338.62 L113.00,338.62" fill="none" stroke="url(#pk2)" stroke-width="1.2"/>
<path d="M84.00,338.67 L84.10,338.67 L84.20,338.66 L84.30,338.66 L84.40,338.65 L84.50,338.64 L84.60,338.64 L84.70,338.63 L84.80,338.62 L84.90,338.62 L85.00,338.61 L85.10,338.60 L85.20,338.60 L85.30,338.59 L85.40,338.58 L85.50,338.58 L85.60,338.57 L85.70,338.56 L85.80,338.55 L85.90,338.55 L86.00,338.54 L86.10,338.53 L86.20,338.52 L86.30,338.51 L86.40,338.50 L86.50,338.49 L86.60,338.48 L86.70,338.47 L86.80,338.46 L86.90,338.45 L87.00,338.44 L87.10,338.43 L87.20,338.42 L87.30,338.41 L87.40,338.40 L87.50,338.39 L87.60,338.38 L87.70,338.36 L87.80,338.35 L87.90,338.34 L88.00,338.33 L88.10,338.31 L88.20,338.30 L88.30,338.28 L88.40,338.27 L88.50,338.25 L88.60,338.24 L88.70,338.22 L88.80,338.21 L88.90,338.19 L89.00,338.17 L89.10,338.16 L89.20,338.14 L89.30,338.12 L89.40,338.10 L89.50,338.08 L89.60,338.06 L89.70,338.04 L89.80,338.02 L89.90,337.99 L90.00,337.97 L90.10,337.95 L90.20,337.92 L90.30,337.90 L90.40,337.87 L90.50,337.84 L90.60,337.82 L90.70,337.79 L90.80,337.76 L90.90,337.73 L91.00,337.69 L91.10,337.66 L91.20,337.63 L91.30,337.59 L91.40,337.55 L91.50,337.51 L91.60,337.48 L91.70,337.43 L91.80,337.39 L91.90,337.35 L92.00,337.30 L92.10,337.25 L92.20,337.20 L92.30,337.15 L92.40,337.10 L92.50,337.04 L92.60,336.98 L92.70,336.92 L92.80,336.86 L92.90,336.79 L93.00,336.72 L93.10,336.65 L93.20,336.57 L93.30,336.49 L93.40,336.41 L93.50,336.32 L93.60,336.23 L93.70,336.13 L93.80,336.03 L93.90,335.92 L94.00,335.81 L94.10,335.69 L94.20,335.57 L94.30,335.43 L94.40,335.29 L94.50,335.15 L94.60,334.99 L94.70,334.83 L94.80,334.65 L94.90,334.46 L95.00,334.27 L95.10,334.06 L95.20,333.83 L95.30,333.59 L95.40,333.34 L95.50,333.07 L95.60,332.77 L95.70,332.46 L95.80,332.12 L95.90,331.76 L96.00,331.37 L96.10,330.95 L96.20,330.50 L96.30,330.00 L96.40,329.47 L96.50,328.89 L96.60,328.25 L96.70,327.56 L96.80,326.80 L96.90,325.98 L97.00,325.06 L97.10,324.06 L97.20,322.96 L97.30,321.73 L97.40,320.38 L97.50,318.88 L97.60,317.20 L97.70,315.34 L97.80,313.25 L97.90,310.92 L98.00,308.32 L98.10,305.40 L98.20,302.15 L98.30,298.51 L98.40,294.48 L98.50,290.02 L98.60,285.14 L98.70,279.88 L98.80,274.30 L98.90,268.54 L99.00,262.80 L99.10,257.36 L99.20,252.56 L99.30,248.78 L99.40,246.34 L99.50,245.50 L99.60,246.34 L99.70,248.78 L99.80,252.56 L99.90,257.36 L100.00,262.80 L100.10,268.54 L100.20,274.30 L100.30,279.88 L100.40,285.14 L100.50,290.02 L100.60,294.48 L100.70,298.51 L100.80,302.15 L100.90,305.40 L101.00,308.32 L101.10,310.92 L101.20,313.25 L101.30,315.34 L101.40,317.20 L101.50,318.88 L101.60,320.38 L101.70,321.73 L101.80,322.96 L101.90,324.06 L102.00,325.06 L102.10,325.98 L102.20,326.80 L102.30,327.56 L102.40,328.25 L102.50,328.89 L102.60,329.47 L102.70,330.00 L102.80,330.50 L102.90,330.95 L103.00,331.37 L103.10,331.76 L103.20,332.12 L103.30,332.46 L103.40,332.77 L103.50,333.07 L103.60,333.34 L103.70,333.59 L103.80,333.83 L103.90,334.06 L104.00,334.27 L104.10,334.46 L104.20,334.65 L104.30,334.83 L104.40,334.99 L104.50,335.15 L104.60,335.29 L104.70,335.43 L104.80,335.57 L104.90,335.69 L105.00,335.81 L105.10,335.92 L105.20,336.03 L105.30,336.13 L105.40,336.23 L105.50,336.32 L105.60,336.41 L105.70,336.49 L105.80,336.57 L105.90,336.65 L106.00,336.72 L106.10,336.79 L106.20,336.86 L106.30,336.92 L106.40,336.98 L106.50,337.04 L106.60,337.10 L106.70,337.15 L106.80,337.20 L106.90,337.25 L107.00,337.30 L107.10,337.35 L107.20,337.39 L107.30,337.43 L107.40,337.48 L107.50,337.51 L107.60,337.55 L107.70,337.59 L107.80,337.63 L107.90,337.66 L108.00,337.69 L108.10,337.73 L108.20,337.76 L108.30,337.79 L108.40,337.82 L108.50,337.84 L108.60,337.87 L108.70,337.90 L108.80,337.92 L108.90,337.95 L109.00,337.97 L109.10,337.99 L109.20,338.02 L109.30,338.04 L109.40,338.06 L109.50,338.08 L109.60,338.10 L109.70,338.12 L109.80,338.14 L109.90,338.16 L110.00,338.17 L110.10,338.19 L110.20,338.21 L110.30,338.22 L110.40,338.24 L110.50,338.25 L110.60,338.27 L110.70,338.28 L110.80,338.30 L110.90,338.31 L111.00,338.33 L111.10,338.34 L111.20,338.35 L111.30,338.36 L111.40,338.38 L111.50,338.39 L111.60,338.40 L111.70,338.41 L111.80,338.42 L111.90,338.43 L112.00,338.44 L112.10,338.45 L112.20,338.46 L112.30,338.47 L112.40,338.48 L112.50,338.49 L112.60,338.50 L112.70,338.51 L112.80,338.52 L112.90,338.53 L113.00,338.54" fill="none" stroke="url(#pk2)" stroke-width="1.2"/>
<path d="M90.00,338.53 L90.10,338.51 L90.20,338.50 L90.30,338.49 L90.40,338.47 L90.50,338.46 L90.60,338.44 L90.70,338.43 L90.80,338.41 L90.90,338.39 L91.00,338.37 L91.10,338.36 L91.20,338.34 L91.30,338.32 L91.40,338.30 L91.50,338.27 L91.60,338.25 L91.70,338.23 L91.80,338.20 L91.90,338.18 L92.00,338.15 L92.10,338.12 L92.20,338.09 L92.30,338.06 L92.40,338.03 L92.50,338.00 L92.60,337.96 L92.70,337.93 L92.80,337.89 L92.90,337.85 L93.00,337.81 L93.10,337.76 L93.20,337.72 L93.30,337.67 L93.40,337.62 L93.50,337.56 L93.60,337.50 L93.70,337.44 L93.80,337.38 L93.90,337.31 L94.00,337.24 L94.10,337.16 L94.20,337.08 L94.30,336.99 L94.40,336.90 L94.50,336.80 L94.60,336.70 L94.70,336.58 L94.80,336.46 L94.90,336.33 L95.00,336.19 L95.10,336.04 L95.20,335.88 L95.30,335.71 L95.40,335.52 L95.50,335.31 L95.60,335.09 L95.70,334.85 L95.80,334.58 L95.90,334.29 L96.00,333.97 L96.10,333.62 L96.20,333.24 L96.30,332.81 L96.40,332.33 L96.50,331.80 L96.60,331.21 L96.70,330.54 L96.80,329.79 L96.90,328.94 L97.00,327.97 L97.10,326.87 L97.20,325.60 L97.30,324.14 L97.40,322.45 L97.50,320.48 L97.60,318.17 L97.70,315.46 L97.80,312.27 L97.90,308.48 L98.00,304.01 L98.10,298.73 L98.20,292.55 L98.30,285.43 L98.40,277.45 L98.50,268.92 L98.60,260.45 L98.70,253.03 L98.80,247.86 L98.90,246.00 L99.00,247.86 L99.10,253.03 L99.20,260.45 L99.30,268.92 L99.40,277.45 L99.50,285.43 L99.60,292.55 L99.70,298.73 L99.80,304.01 L99.90,308.48 L100.00,312.27 L100.10,315.46 L100.20,318.17 L100.30,320.48 L100.40,322.45 L100.50,324.14 L100.60,325.60 L100.70,326.87 L100.80,327.97 L100.90,328.94 L101.00,329.79 L101.10,330.54 L101.20,331.21 L101.30,331.80 L101.40,332.33 L101.50,332.81 L101.60,333.24 L101.70,333.62 L101.80,333.97 L101.90,334.29 L102.00,334.58 L102.10,334.85 L102.20,335.09 L102.30,335.31 L102.40,335.52 L102.50,335.71 L102.60,335.88 L102.70,336.04 L102.80,336.19 L102.90,336.33 L103.00,336.46 L103.10,336.58 L103.20,336.70 L103.30,336.80 L103.40,336.90 L103.50,336.99 L103.60,337.08 L103.70,337.16 L103.80,337.24 L103.90,337.31 L104.00,337.38 L104.10,337.44 L104.20,337.50 L104.30,337.56 L104.40,337.62 L104.50,337.67 L104.60,337.72 L104.70,337.76 L104.80,337.81 L104.90,337.85 L105.00,337.89 L105.10,337.93 L105.20,337.96 L105.30,338.00 L105.40,338.03 L105.50,338.06 L105.60,338.09 L105.70,338.12 L105.80,338.15 L105.90,338.18 L106.00,338.20 L106.10,338.23 L106.20,338.25 L106.30,338.27 L106.40,338.30 L106.50,338.32 L106.60,338.34 L106.70,338.36 L106.80,338.37 L106.90,338.39 L107.00,338.41 L107.10,338.43 L107.20,338.44 L107.30,338.46 L107.40,338.47 L107.50,338.49 L107.60,338.50 L107.70,338.51 L107.80,338.53 L107.90,338.54 L108.00,338.55" fill="none" stroke="#888" stroke-width="1.1"/>
<text x="95.5" y="350.5" font-size="8.2" fill="#333">13</text>
<line x1="51" y1="357.6" x2="179" y2="357.6" stroke="#666" stroke-width="1.3"/>
<circle cx="179" cy="357.4" r="1.2" fill="#111"/>
<text x="50.2" y="367.9" font-size="8.1" font-weight="bold" fill="#4a4a4a" textLength="91.3" lengthAdjust="spacingAndGlyphs">V<tspan font-size="4.86" dy="2.27">β</tspan><tspan dy="-2.27"> CDR3 length (aa)</tspan></text>
<rect x="272.4" y="234.2" width="209.3" height="116.40000000000003" fill="none" stroke="#d0d0d0" stroke-width="1"/>
<line x1="252.7" y1="238.7" x2="252.7" y2="350.5" stroke="#555" stroke-width="1.4"/>
<circle cx="252.8" cy="238.7" r="1.4" fill="#000"/>
<text transform="translate(244.7,339) rotate(-90)" font-size="9.0" fill="#222" textLength="90.8" lengthAdjust="spacingAndGlyphs">number of sequences</text>
<text x="270" y="239.5" font-size="3.6" fill="#777" text-anchor="end">1,200</text>
<text x="270" y="248.8" font-size="3.6" fill="#777" text-anchor="end">1,100</text>
<text x="270" y="258.2" font-size="3.6" fill="#777" text-anchor="end">1,000</text>
<text x="270" y="267.5" font-size="3.6" fill="#777" text-anchor="end">900</text>
<text x="270" y="276.9" font-size="3.6" fill="#777" text-anchor="end">800</text>
<text x="270" y="286.2" font-size="3.6" fill="#777" text-anchor="end">700</text>
<text x="270" y="295.6" font-size="3.6" fill="#777" text-anchor="end">600</text>
<text x="270" y="304.9" font-size="3.6" fill="#777" text-anchor="end">500</text>
<text x="270" y="314.3" font-size="3.6" fill="#777" text-anchor="end">400</text>
<text x="270" y="323.6" font-size="3.6" fill="#777" text-anchor="end">300</text>
<text x="270" y="333.0" font-size="3.6" fill="#777" text-anchor="end">200</text>
<text x="270" y="342.4" font-size="3.6" fill="#777" text-anchor="end">100</text>
<text x="270" y="351.7" font-size="3.6" fill="#777" text-anchor="end">0</text>
<text x="289.9" y="355.6" font-size="3.6" fill="#777" text-anchor="middle">8</text>
<text x="305.9" y="355.6" font-size="3.6" fill="#777" text-anchor="middle">9</text>
<text x="321.9" y="355.6" font-size="3.6" fill="#777" text-anchor="middle">10</text>
<text x="337.8" y="355.6" font-size="3.6" fill="#777" text-anchor="middle">11</text>
<text x="353.8" y="355.6" font-size="3.6" fill="#777" text-anchor="middle">12</text>
<text x="369.8" y="355.6" font-size="3.6" fill="#777" text-anchor="middle">13</text>
<text x="385.8" y="355.6" font-size="3.6" fill="#777" text-anchor="middle">14</text>
<text x="401.8" y="355.6" font-size="3.6" fill="#777" text-anchor="middle">15</text>
<text x="417.7" y="355.6" font-size="3.6" fill="#777" text-anchor="middle">16</text>
<text x="433.7" y="355.6" font-size="3.6" fill="#777" text-anchor="middle">17</text>
<text x="449.7" y="355.6" font-size="3.6" fill="#777" text-anchor="middle">18</text>
<text x="465.7" y="355.6" font-size="3.6" fill="#777" text-anchor="middle">19</text>
<rect x="284.00" y="348.60" width="11.8" height="1.80" fill="#7a0000"/>
<rect x="284.00" y="348.00" width="11.8" height="0.60" fill="#6200ff"/>
<rect x="299.98" y="343.90" width="11.8" height="6.50" fill="#00005a"/>
<rect x="299.98" y="342.80" width="11.8" height="1.10" fill="#6200ff"/>
<rect x="299.98" y="336.50" width="11.8" height="6.30" fill="#0000f0"/>
<rect x="315.96" y="348.00" width="11.8" height="2.40" fill="#00005a"/>
<rect x="315.96" y="346.60" width="11.8" height="1.40" fill="#6200ff"/>
<rect x="315.96" y="343.90" width="11.8" height="2.70" fill="#ff8800"/>
<rect x="315.96" y="341.90" width="11.8" height="2.00" fill="#ffff00"/>
<rect x="315.96" y="339.20" width="11.8" height="2.70" fill="#22e000"/>
<rect x="315.96" y="338.00" width="11.8" height="1.20" fill="#99ee33"/>
<rect x="315.96" y="331.40" width="11.8" height="6.60" fill="#0000f0"/>
<rect x="331.94" y="348.70" width="11.8" height="1.70" fill="#00005a"/>
<rect x="331.94" y="343.30" width="11.8" height="5.40" fill="#6200ff"/>
<rect x="331.94" y="341.90" width="11.8" height="1.40" fill="#dd0000"/>
<rect x="331.94" y="339.20" width="11.8" height="2.70" fill="#ff8800"/>
<rect x="331.94" y="337.20" width="11.8" height="2.00" fill="#ffff00"/>
<rect x="331.94" y="331.10" width="11.8" height="6.10" fill="#22e000"/>
<rect x="331.94" y="327.80" width="11.8" height="3.30" fill="#33f5ff"/>
<rect x="331.94" y="322.80" width="11.8" height="5.00" fill="#0000f0"/>
<rect x="347.92" y="346.20" width="11.8" height="4.20" fill="#00005a"/>
<rect x="347.92" y="338.10" width="11.8" height="8.10" fill="#ff8800"/>
<rect x="347.92" y="333.60" width="11.8" height="4.50" fill="#ffff00"/>
<rect x="347.92" y="326.40" width="11.8" height="7.20" fill="#22e000"/>
<rect x="347.92" y="303.00" width="11.8" height="23.40" fill="#33f5ff"/>
<rect x="347.92" y="291.30" width="11.8" height="11.70" fill="#0000f0"/>
<rect x="363.90" y="348.00" width="11.8" height="2.40" fill="#6200ff"/>
<rect x="363.90" y="345.00" width="11.8" height="3.00" fill="#ff8800"/>
<rect x="363.90" y="327.00" width="11.8" height="18.00" fill="#ffff00"/>
<rect x="363.90" y="241.70" width="11.8" height="85.30" fill="#33f5ff"/>
<rect x="363.90" y="239.40" width="11.8" height="2.30" fill="#0000f0"/>
<rect x="379.88" y="348.00" width="11.8" height="2.40" fill="#dd0000"/>
<rect x="379.88" y="345.50" width="11.8" height="2.50" fill="#ffff00"/>
<rect x="379.88" y="344.20" width="11.8" height="1.30" fill="#33f5ff"/>
<rect x="379.88" y="342.80" width="11.8" height="1.40" fill="#0000f0"/>
<rect x="395.86" y="348.40" width="11.8" height="2.00" fill="#dd0000"/>
<rect x="395.86" y="346.30" width="11.8" height="2.10" fill="#ff10ff"/>
<rect x="411.84" y="348.60" width="11.8" height="1.80" fill="#99ee33"/>
<rect x="443.80" y="348.90" width="11.8" height="1.50" fill="#33f5ff"/>
<line x1="284.8" y1="365" x2="460.4" y2="365" stroke="#444" stroke-width="1.4"/>
<circle cx="460.4" cy="364.7" r="1.3" fill="#000"/>
<text x="320.6" y="376.3" font-size="8.1" font-weight="bold" fill="#4a4a4a" textLength="90.2" lengthAdjust="spacingAndGlyphs">V<tspan font-size="4.86" dy="2.27">β</tspan><tspan dy="-2.27"> CDR3 length (aa)</tspan></text>
<rect x="80" y="421.8" width="78.80000000000001" height="232.59999999999997" fill="none" stroke="#555" stroke-width="1.3"/>
<text x="102.2" y="412.6" font-size="10" font-weight="bold" fill="#333" textLength="25.5" lengthAdjust="spacingAndGlyphs">NGS</text><text x="127.9" y="413.2" font-size="6.6" font-weight="bold" fill="#666">5</text>
<line x1="74" y1="459.9" x2="80" y2="459.9" stroke="#555" stroke-width="1"/>
<text x="71.6" y="463.2" font-size="9.2" fill="#444" text-anchor="end" letter-spacing="1">7</text>
<line x1="74" y1="525.2" x2="80" y2="525.2" stroke="#555" stroke-width="1"/>
<text x="71.6" y="528.5" font-size="9.2" fill="#444" text-anchor="end" letter-spacing="1">6.5</text>
<line x1="74" y1="590.8" x2="80" y2="590.8" stroke="#555" stroke-width="1"/>
<text x="71.6" y="594.1" font-size="9.2" fill="#444" text-anchor="end" letter-spacing="1">6</text>
<line x1="96.2" y1="457.5" x2="96.2" y2="474.5" stroke="#555" stroke-width="1.1"/>
<line x1="96.2" y1="535.4" x2="96.2" y2="576" stroke="#555" stroke-width="1.1"/>
<line x1="94.60000000000001" y1="457.5" x2="97.8" y2="457.5" stroke="#555" stroke-width="1.3"/>
<line x1="94.60000000000001" y1="576" x2="97.8" y2="576" stroke="#555" stroke-width="1.3"/>
<rect x="87" y="474.5" width="18.400000000000006" height="60.89999999999998" rx="0.8" fill="#fff" stroke="#555" stroke-width="1.35"/>
<line x1="87" y1="517.4" x2="105.4" y2="517.4" stroke="#333" stroke-width="1.9"/>
<line x1="119.7" y1="514.8" x2="119.7" y2="526.5" stroke="#555" stroke-width="1.1"/>
<line x1="119.7" y1="587.9" x2="119.7" y2="606.3" stroke="#555" stroke-width="1.1"/>
<line x1="118.10000000000001" y1="514.8" x2="121.3" y2="514.8" stroke="#555" stroke-width="1.3"/>
<line x1="118.10000000000001" y1="606.3" x2="121.3" y2="606.3" stroke="#555" stroke-width="1.3"/>
<rect x="110.5" y="526.5" width="18.400000000000006" height="61.39999999999998" rx="0.8" fill="#cbcbcb" stroke="#555" stroke-width="1.35"/>
<line x1="110.5" y1="555" x2="128.9" y2="555" stroke="#333" stroke-width="1.9"/>
<line x1="143.6" y1="604.8" x2="143.6" y2="611.1" stroke="#555" stroke-width="1.1"/>
<line x1="143.6" y1="626.4" x2="143.6" y2="637.6" stroke="#555" stroke-width="1.1"/>
<line x1="142.0" y1="604.8" x2="145.2" y2="604.8" stroke="#555" stroke-width="1.3"/>
<line x1="142.0" y1="637.6" x2="145.2" y2="637.6" stroke="#555" stroke-width="1.3"/>
<rect x="134.6" y="611.1" width="18.0" height="15.299999999999955" rx="0.8" fill="#505050" stroke="#555" stroke-width="1.35"/>
<line x1="134.6" y1="616.8" x2="152.6" y2="616.8" stroke="#222" stroke-width="1.9"/>
<line x1="135.3" y1="614.9" x2="151.9" y2="614.9" stroke="#777" stroke-width="0.8"/>
<line x1="135.3" y1="618.8" x2="151.9" y2="618.8" stroke="#777" stroke-width="0.8"/>
<circle cx="143.1" cy="547" r="0.9" fill="#666"/>
<line x1="95.6" y1="654.4" x2="95.6" y2="658.3" stroke="#555" stroke-width="1"/>
<text transform="translate(98.89999999999999,662.8) rotate(-90)" font-size="9.2" fill="#333" text-anchor="end">healthy</text>
<line x1="119.6" y1="654.4" x2="119.6" y2="658.3" stroke="#555" stroke-width="1"/>
<text transform="translate(122.89999999999999,662.8) rotate(-90)" font-size="9.2" fill="#333" text-anchor="end">SAA</text>
<line x1="143.1" y1="654.4" x2="143.1" y2="658.3" stroke="#555" stroke-width="1"/>
<text transform="translate(146.4,662.8) rotate(-90)" font-size="9.2" fill="#333" text-anchor="end">aBMT</text>
<rect x="225.9" y="421.9" width="78.49999999999997" height="232.39999999999998" fill="none" stroke="#555" stroke-width="1.3"/>
<text x="246.4" y="411.9" font-size="10.6" font-weight="bold" fill="#333">C</text><text x="255.5" y="411.9" font-size="10.6" font-weight="bold" fill="#333">S</text><text x="263.6" y="412.6" font-size="7" font-weight="bold" fill="#444" textLength="16.6" lengthAdjust="spacingAndGlyphs">OLD</text>
<line x1="219.5" y1="643.2" x2="226" y2="643.2" stroke="#555" stroke-width="1"/>
<text x="217.6" y="646.5" font-size="9.2" fill="#444" text-anchor="end" letter-spacing="1">0</text>
<line x1="219.5" y1="605.9" x2="226" y2="605.9" stroke="#555" stroke-width="1"/>
<text x="217.6" y="609.1" font-size="9.2" fill="#444" text-anchor="end" letter-spacing="1">25</text>
<line x1="219.5" y1="568.5" x2="226" y2="568.5" stroke="#555" stroke-width="1"/>
<text x="217.6" y="571.8" font-size="9.2" fill="#444" text-anchor="end" letter-spacing="1">50</text>
<line x1="219.5" y1="531.0" x2="226" y2="531.0" stroke="#555" stroke-width="1"/>
<text x="217.6" y="534.3" font-size="9.2" fill="#444" text-anchor="end" letter-spacing="1">75</text>
<line x1="219.5" y1="493.6" x2="226" y2="493.6" stroke="#555" stroke-width="1"/>
<text x="217.6" y="496.9" font-size="9.2" fill="#444" text-anchor="end" letter-spacing="1">100</text>
<line x1="219.5" y1="456.2" x2="226" y2="456.2" stroke="#555" stroke-width="1"/>
<text x="217.6" y="459.6" font-size="9.2" fill="#444" text-anchor="end" letter-spacing="1">125</text>
<line x1="241.65" y1="438.8" x2="241.65" y2="443" stroke="#555" stroke-width="1.1"/>
<line x1="241.65" y1="463.8" x2="241.65" y2="465.5" stroke="#555" stroke-width="1.1"/>
<line x1="240.05" y1="438.8" x2="243.25" y2="438.8" stroke="#555" stroke-width="1.3"/>
<line x1="240.05" y1="465.5" x2="243.25" y2="465.5" stroke="#555" stroke-width="1.3"/>
<rect x="232" y="443" width="19.30000000000001" height="20.80000000000001" rx="0.8" fill="#fff" stroke="#555" stroke-width="1.35"/>
<line x1="232" y1="453.8" x2="251.3" y2="453.8" stroke="#333" stroke-width="1.9"/>
<line x1="265.05" y1="457" x2="265.05" y2="508.8" stroke="#555" stroke-width="1.1"/>
<line x1="265.05" y1="597" x2="265.05" y2="607.5" stroke="#555" stroke-width="1.1"/>
<line x1="263.45" y1="457" x2="266.65000000000003" y2="457" stroke="#555" stroke-width="1.3"/>
<line x1="263.45" y1="607.5" x2="266.65000000000003" y2="607.5" stroke="#555" stroke-width="1.3"/>
<rect x="256.3" y="508.8" width="17.5" height="88.19999999999999" rx="0.8" fill="#cbcbcb" stroke="#555" stroke-width="1.35"/>
<line x1="256.3" y1="585" x2="273.8" y2="585" stroke="#333" stroke-width="1.9"/>
<rect x="257" y="586.2" width="16.1" height="10.1" fill="#dedede"/>
<line x1="288.75" y1="563.3" x2="288.75" y2="574.5" stroke="#555" stroke-width="1.1"/>
<line x1="288.75" y1="601.3" x2="288.75" y2="615" stroke="#555" stroke-width="1.1"/>
<line x1="287.15" y1="563.3" x2="290.35" y2="563.3" stroke="#555" stroke-width="1.3"/>
<line x1="287.15" y1="615" x2="290.35" y2="615" stroke="#555" stroke-width="1.3"/>
<rect x="279.5" y="574.5" width="18.5" height="26.799999999999955" rx="0.8" fill="#505050" stroke="#555" stroke-width="1.35"/>
<line x1="279.5" y1="585" x2="298" y2="585" stroke="#222" stroke-width="1.9"/>
<circle cx="288.8" cy="520.5" r="2.2" fill="#555"/>
<line x1="241.8" y1="654.3" x2="241.8" y2="658.3" stroke="#555" stroke-width="1"/>
<text transform="translate(245.10000000000002,662.8) rotate(-90)" font-size="9.2" fill="#333" text-anchor="end">healthy</text>
<line x1="265" y1="654.3" x2="265" y2="658.3" stroke="#555" stroke-width="1"/>
<text transform="translate(268.3,662.8) rotate(-90)" font-size="9.2" fill="#333" text-anchor="end">SAA</text>
<line x1="288.8" y1="654.3" x2="288.8" y2="658.3" stroke="#555" stroke-width="1"/>
<text transform="translate(292.1,662.8) rotate(-90)" font-size="9.2" fill="#333" text-anchor="end">aBMT</text>
</svg></body></html>
